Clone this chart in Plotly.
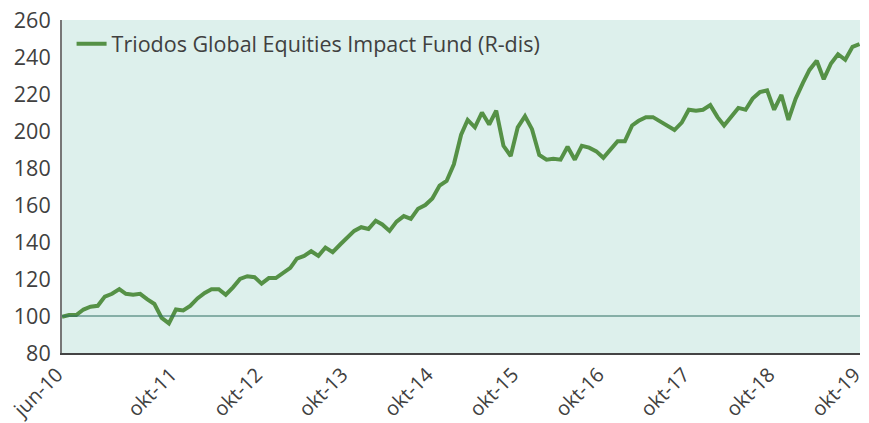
import pandas as pd
import plotly.graph_objects as go

series_name = "Triodos Global Equities Impact Fund (R-dis)"
start_month = "2010-06-01"
values = [
    99.5, 100.5, 100.5, 103.5, 105, 105.5, 110.5, 112, 114.5, 112,
    111.5, 112, 109, 106.5, 99, 96, 103.5, 103, 105.5, 109.5,
    112.5, 114.5, 114.5, 111.5, 115.5, 120, 121.5, 121, 117.5, 120.5,
    120.5, 123.5, 126, 131, 132.5, 135, 132.5, 137, 134.5, 138.5,
    142.5, 146, 148, 147, 151.5, 149.5, 146, 151, 154, 152.5,
    158, 160, 163.5, 170.5, 173, 182, 198, 206, 202, 210,
    203.5, 211, 192, 186.5, 202, 208, 201, 187, 184.5, 185,
    184.5, 191.5, 184.5, 192, 191, 189, 185.5, 190.5, 194.5, 194.5,
    203, 205.5, 207.5, 207.5, 205, 202.5, 200.5, 204.5, 211.5, 211,
    211.5, 214, 207.5, 203, 207.5, 212.5, 211.5, 217.5, 221, 222,
    211.5, 219.5, 206, 217.5, 226, 233, 238, 228, 236.5, 241.5,
    238.5, 245.5, 247,
]
tick_dates = ["2010-06-01", "2011-10-01", "2012-10-01", "2013-10-01", "2014-10-01",
              "2015-10-01", "2016-10-01", "2017-10-01", "2018-10-01", "2019-10-01"]
tick_labels = ["jun-10", "okt-11", "okt-12", "okt-13", "okt-14",
               "okt-15", "okt-16", "okt-17", "okt-18", "okt-19"]
y_ticks = [80, 100, 120, 140, 160, 180, 200, 220, 240, 260]
baseline = 100

dates = pd.date_range(start_month, periods=len(values), freq="MS")

fig = go.Figure()
fig.add_trace(go.Scatter(
    x=dates, y=values, mode="lines", name=series_name,
    line=dict(color="#559146", width=4),
    showlegend=True,
))
fig.add_shape(type="line", xref="paper", x0=0, x1=1, yref="y", y0=baseline, y1=baseline,
              line=dict(color="#2f6e62", width=1), layer="above")

font_family = "Open Sans, Noto Sans, sans-serif"
txt = "#404040"
fig.update_layout(
    width=869, height=423,
    margin=dict(l=62, r=9, t=20, b=70),
    paper_bgcolor="white",
    plot_bgcolor="#ddf0ec",
    font=dict(family=font_family, size=21, color=txt),
    legend=dict(x=0.012, y=0.99, xanchor="left", yanchor="top",
                bgcolor="rgba(0,0,0,0)", font=dict(size=21.5, color=txt)),
    xaxis=dict(
        type="date",
        range=["2010-06-01", "2019-10-03"],
        tickvals=tick_dates, ticktext=tick_labels,
        tickangle=-45,
        showgrid=False, zeroline=False,
        showline=True, linecolor="#444444", linewidth=2,
        ticks="", tickfont=dict(size=20, color=txt),
        automargin=False, ticklabeloverflow="allow",
        ticklabelshift=-5,
    ),
    yaxis=dict(
        range=[80, 260],
        tickvals=y_ticks,
        showgrid=False, zeroline=False,
        showline=True, linecolor="#777777", linewidth=2,
        ticks="", ticklabelstandoff=5,
        tickfont=dict(size=21.5, color=txt),
        automargin=False, ticklabeloverflow="allow",
    ),
)

fig.write_html("out.html", config={"displayModeBar": False},
               post_script="document.body.style.margin='0';")
